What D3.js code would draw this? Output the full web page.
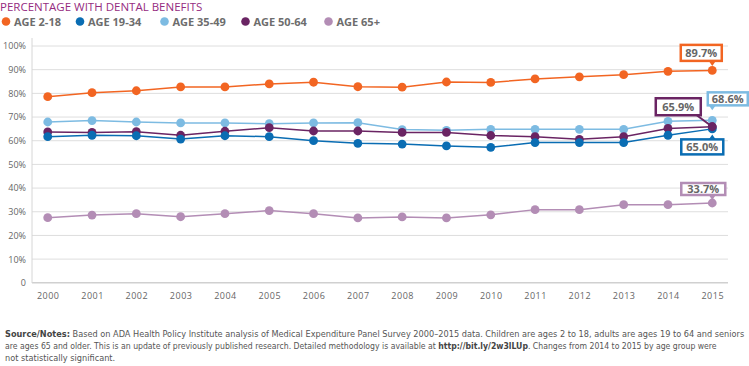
<!DOCTYPE html>
<html><head><meta charset="utf-8">
<script src="https://cdn.jsdelivr.net/npm/d3@7"></script>
<style>
body{margin:0;background:#fff;}
svg{display:block;font-family:"Open Sans","Noto Sans",sans-serif;}
</style></head>
<body><svg id="c" width="749" height="366"></svg>
<script>
const years = ["2000","2001","2002","2003","2004","2005","2006","2007","2008","2009","2010","2011","2012","2013","2014","2015"];
const age2_18  = [78.6,80.3,81.1,82.7,82.7,84.0,84.7,82.8,82.6,84.8,84.6,86.1,87.0,87.9,89.3,89.7];
const age19_34 = [61.7,62.3,62.1,60.7,62.1,61.7,60.0,58.9,58.6,57.8,57.2,59.2,59.2,59.2,62.3,65.0];
const age35_49 = [67.9,68.5,67.9,67.5,67.5,67.2,67.5,67.6,64.7,64.4,64.8,64.8,64.8,64.8,68.2,68.6];
const age50_64 = [63.7,63.5,63.8,62.3,64.0,65.5,64.1,64.1,63.5,63.5,62.2,61.7,60.6,61.7,65.2,65.9];
const age65    = [27.5,28.6,29.2,27.9,29.2,30.5,29.2,27.4,27.8,27.4,28.7,30.9,30.9,33.0,33.0,33.7];
const seriesNames = ["AGE 2-18","AGE 19-34","AGE 35-49","AGE 50-64","AGE 65+"];
const yTicks = [0,10,20,30,40,50,60,70,80,90,100];
const endLabels = ["89.7%","65.0%","68.6%","65.9%","33.7%"];

const colors = ["#f26522","#0a6db3","#7dbbe2","#6a2463","#b38db5"];
const allSeries = [age2_18, age19_34, age35_49, age50_64, age65];

const svg = d3.select("#c");
const x = d3.scalePoint().domain(years).range([32,728]).padding(0.355);
const y = d3.scaleLinear().domain([0,100]).range([282.8,46]);

// title
svg.append("text").attr("x",0).attr("y",11).attr("fill","#952b81")
  .style("font-size","11.5px").style("font-weight","500").text("PERCENTAGE WITH DENTAL BENEFITS");

// legend
const legX = [6,80,164.5,245.5,328.5];
seriesNames.forEach((n,i)=>{
  svg.append("circle").attr("cx",legX[i]).attr("cy",21.5).attr("r",4.3).attr("fill",colors[i]);
  svg.append("text").attr("x",legX[i]+8).attr("y",25.5).attr("fill","#6d6d6d")
    .style("font-size","11px").style("font-weight","700").text(n);
});

// grid
svg.append("g").selectAll("line").data(yTicks).join("line")
  .attr("x1",32).attr("x2",728).attr("y1",d=>y(d)).attr("y2",d=>y(d))
  .attr("stroke",d=>d===0?"#d0d0d0":"#dedede").attr("stroke-width",d=>d===0?1.5:1);
svg.append("line").attr("x1",32).attr("x2",32).attr("y1",38).attr("y2",283)
  .attr("stroke","#d6d6d6");

// y axis labels
const yAxis = d3.axisLeft(y).tickValues(yTicks).tickSize(0).tickPadding(6)
  .tickFormat(d=>d===0?"0":d+"%");
const ga = svg.append("g").attr("transform","translate(32,0)").call(yAxis);
ga.select(".domain").remove();
ga.selectAll("text").attr("fill","#666").style("font-size","9px").style("font-family","'Open Sans',sans-serif");

// x axis labels
const xAxis = d3.axisBottom(x).tickSize(0).tickPadding(10);
const gx = svg.append("g").attr("transform","translate(0,283)").call(xAxis);
gx.select(".domain").remove();
gx.selectAll("text").attr("fill","#666").style("font-size","9px").style("letter-spacing","0.5px").style("font-family","'Open Sans',sans-serif");

// lines
const line = d3.line().x((d,i)=>x(years[i])).y(d=>y(d));
const order = [4,0,2,3,1];
order.forEach(i=>{
  svg.append("path").datum(allSeries[i]).attr("d",line).attr("fill","none")
    .attr("stroke",colors[i]).attr("stroke-width",1.5);
  svg.append("g").selectAll("circle").data(allSeries[i]).join("circle")
    .attr("cx",(d,j)=>x(years[j])).attr("cy",d=>y(d)).attr("r",4.4).attr("fill",colors[i]);
});
svg.append("circle").attr("cx",x("2015")).attr("cy",y(age50_64[15])).attr("r",4.4).attr("fill",colors[3]);

// end labels
const lab = [
  {s:0,dx:-11,dy:-17.5,w:41,h:16,ptr:"down"},
  {s:1,dx:-10,dy:18,w:42,h:15,ptr:"up"},
  {s:2,dx:15.5,dy:-21.5,w:40,h:13,ptr:"down"},
  {s:3,dx:-34,dy:-20,w:45,h:17,ptr:"leader"},
  {s:4,dx:-9,dy:-14,w:44,h:12,ptr:"down"}
];
lab.forEach((L,k)=>{
  const px = x("2015"), py = y(allSeries[L.s][15]);
  const cx = px+L.dx, cy = py+L.dy;
  const c = colors[L.s];
  const g = svg.append("g");
  if(L.ptr==="leader"){
    g.append("line").attr("x1",cx+L.w/2-4).attr("y1",cy+L.h/2).attr("x2",px).attr("y2",py)
      .attr("stroke",c).attr("stroke-width",2);
  } else if(L.ptr==="down"){
    const by = cy+L.h/2;
    g.append("path").attr("d",`M${px-3.5},${by} L${px+3.5},${by} L${px},${by+5} Z`).attr("fill",c);
  } else {
    const by = cy-L.h/2;
    g.append("path").attr("d",`M${px-3.5},${by} L${px+3.5},${by} L${px},${by-5} Z`).attr("fill",c);
  }
  g.append("rect").attr("x",cx-L.w/2).attr("y",cy-L.h/2).attr("width",L.w).attr("height",L.h)
    .attr("fill","#fff").attr("stroke",c).attr("stroke-width",2.5);
  g.append("text").attr("x",cx).attr("y",cy+3.8).attr("text-anchor","middle")
    .attr("fill","#666").style("font-size","11px").style("font-weight","700").text(endLabels[k]);
});

// footnote
const notes = [
  [["Source/Notes:",true],[" Based on ADA Health Policy Institute analysis of Medical Expenditure Panel Survey 2000–2015 data. Children are ages 2 to 18, adults are ages 19 to 64 and seniors",false]],
  [["are ages 65 and older. This is an update of previously published research. Detailed methodology is available at ",false],["http://bit.ly/2w3lLUp",true],[". Changes from 2014 to 2015 by age group were",false]],
  [["not statistically significant.",false]]
];
const noteY = [337.5,349.5,361.5];
const noteW = [740,713,null];
let sc = 1;
notes.forEach((ln,i)=>{
  const t = svg.append("text").attr("x",5).attr("y",noteY[i]).attr("fill","#555")
    .style("font-size","9px").style("font-family","'Liberation Sans Narrow','DejaVu Sans Condensed',sans-serif");
  ln.forEach(p=>t.append("tspan").style("font-weight",p[1]?"700":"400").attr("fill",p[1]?"#444":"#555").text(p[0]));
  const s = noteW[i] ? noteW[i]/t.node().getComputedTextLength() : sc;
  if(i===0) sc = s;
  t.attr("transform",`translate(5,0) scale(${s},1) translate(-5,0)`);
});
</script></body></html>
